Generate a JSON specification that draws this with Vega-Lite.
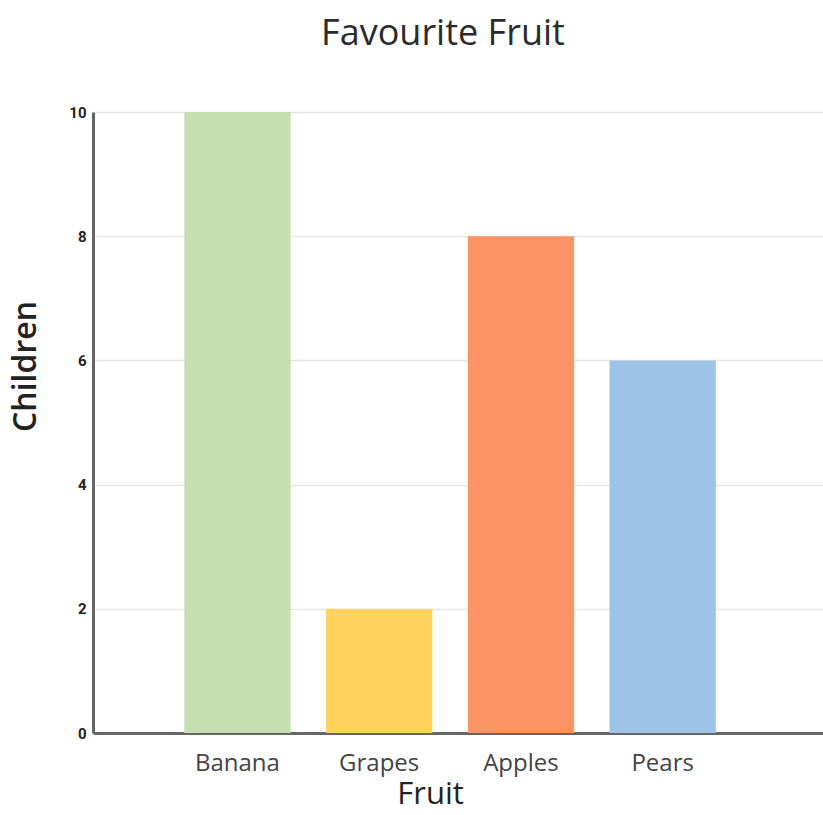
{
  "$schema": "https://vega.github.io/schema/vega-lite/v6.json",
  "width": 730,
  "height": 621,
  "autosize": "none",
  "padding": {"left": 93, "top": 112, "right": 0, "bottom": 82},
  "background": "white",
  "title": {
    "text": "Favourite Fruit",
    "font": "Open Sans",
    "fontSize": 36,
    "fontWeight": "normal",
    "color": "#2b2b2b",
    "anchor": "middle",
    "dx": -15,
    "offset": 52
  },
  "data": {
    "values": [
      {"fruit": "Banana", "children": 10},
      {"fruit": "Grapes", "children": 2},
      {"fruit": "Apples", "children": 8},
      {"fruit": "Pears", "children": 6}
    ]
  },
  "mark": {"type": "bar"},
  "encoding": {
    "x": {
      "field": "fruit",
      "type": "nominal",
      "sort": null,
      "title": "Fruit",
      "scale": {"paddingInner": 0.25, "paddingOuter": 0.7, "align": 0.46},
      "axis": {
        "labelAngle": 0,
        "labelFont": "Open Sans",
        "labelFontSize": 24,
        "labelColor": "#444",
        "labelPadding": 18,
        "ticks": false,
        "domainColor": "#666",
        "domainWidth": 3,
        "titleFont": "Open Sans",
        "titleFontSize": 31,
        "titleFontWeight": "normal",
        "titleColor": "#222",
        "titleX": 337,
        "titlePadding": 4
      }
    },
    "y": {
      "field": "children",
      "type": "quantitative",
      "title": "Children",
      "scale": {"domain": [0, 10], "nice": false},
      "axis": {
        "values": [0, 2, 4, 6, 8, 10],
        "labelFont": "Roboto",
        "labelFontWeight": "bold",
        "labelFontSize": 15,
        "labelColor": "#222",
        "labelPadding": 7,
        "ticks": false,
        "domainColor": "#666",
        "domainWidth": 3,
        "gridColor": "#e6e6e6",
        "gridWidth": 1.5,
        "titleFont": "Open Sans",
        "titleFontSize": 32,
        "titleFontWeight": 600,
        "titleColor": "#222",
        "titleY": 254,
        "titlePadding": 26
      }
    },
    "color": {
      "field": "fruit",
      "type": "nominal",
      "legend": null,
      "scale": {
        "domain": ["Banana", "Grapes", "Apples", "Pears"],
        "range": ["#c5dfb3", "#fdd35e", "#fb9364", "#9dc3e6"]
      }
    }
  },
  "config": {"view": {"stroke": null}}
}
